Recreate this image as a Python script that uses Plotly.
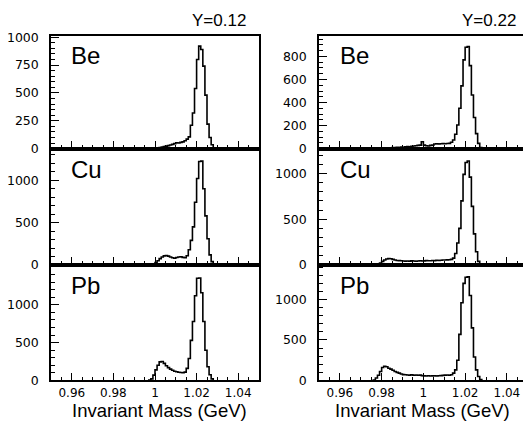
import plotly.graph_objects as go

# ---------------- data (1 MeV bins, counts per bin) ----------------
bin_width = 0.001

# Y = 0.12 column
be12_start = 1.000
be12_counts = [3, 6, 10, 14, 18, 22, 27, 32, 38, 45, 52, 50, 56, 60, 70, 85, 105,
               210, 320, 540, 800, 920, 890, 740, 480, 220, 100, 35, 8]
cu12_start = 0.998
cu12_counts = [5, 15, 30, 50, 75, 95, 108, 112, 105, 95, 85, 80, 88, 95, 98, 90, 85,
               110, 180, 290, 450, 740, 1020, 1220, 1225, 900, 580, 310, 120, 40, 10]
pb12_start = 0.997
pb12_counts = [5, 20, 70, 140, 200, 245, 250, 225, 195, 170, 150, 135, 122, 115, 108,
               104, 102, 110, 160, 290, 530, 780, 1120, 1350, 1355, 1160, 780, 400,
               180, 75, 20]

# Y = 0.22 column
be22_start = 0.984
be22_counts = [5, 8, 10, 12, 10, 14, 12, 15, 18, 16, 20, 22, 25, 28, 30, 60, 30, 25,
               22, 28, 30, 40, 42, 40, 42, 43, 42, 44, 45, 55, 75, 125, 205, 350, 545,
               770, 880, 885, 720, 465, 270, 130, 45, 10]
cu22_start = 0.978
cu22_counts = [5, 20, 40, 55, 65, 70, 68, 62, 55, 50, 48, 46, 44, 42, 44, 42, 45, 43,
               41, 44, 46, 44, 45, 48, 46, 47, 50, 48, 52, 50, 52, 55, 54, 56, 58, 62,
               75, 125, 240, 400, 700, 990, 1120, 1135, 960, 640, 340, 145, 40, 8]
pb22_start = 0.976
pb22_counts = [5, 30, 65, 110, 160, 175, 170, 150, 140, 125, 110, 100, 90, 80, 72, 70,
               68, 66, 70, 65, 68, 64, 66, 60, 56, 55, 58, 54, 56, 58, 55, 57, 60, 62,
               66, 68, 65, 70, 90, 130, 250, 570, 960, 1200, 1275, 1280, 1050, 650,
               290, 130, 48, 10]

nuclei = ["Be", "Cu", "Pb"]
rapidity_labels = ["Y=0.12", "Y=0.22"]
x_tickvals = [0.96, 0.98, 1.0, 1.02, 1.04]
x_ticktext = ["0.96", "0.98", "1", "1.02", "1.04"]
y_ticks_be12 = [0, 250, 500, 750, 1000]
y_ticks_be22 = [0, 200, 400, 600, 800]
y_ticks_heavy = [0, 500, 1000]

panels = [
    # (start, counts, y_max, y_tickvals, y_minor)
    [(be12_start, be12_counts, 1010, y_ticks_be12, 50),
     (cu12_start, cu12_counts, 1373, y_ticks_heavy, 100),
     (pb12_start, pb12_counts, 1526, y_ticks_heavy, 100)],
    [(be22_start, be22_counts, 977, y_ticks_be22, 50),
     (cu22_start, cu22_counts, 1271, y_ticks_heavy, 100),
     (pb22_start, pb22_counts, 1427, y_ticks_heavy, 100)],
]

# ---------------- layout geometry ----------------
W, H = 523, 434
col_dom = [(51 / W, 259 / W), (319 / W, 1.0)]
col_xrange = [(0.95, 1.05), (0.95, 0.95 + (W - 319) / 2087.5)]
row_pix = [(31, 147), (147, 267), (267, 386)]
row_dom = [(1 - b / H, 1 - t / H) for (t, b) in row_pix]

tick_font = dict(family="DejaVu Sans", size=12.5, color="black")
xtick_font = dict(family="DejaVu Sans", size=12, color="black")
text_font = "Liberation Sans, Arial, sans-serif"

fig = go.Figure()
layout = dict(
    width=W, height=H,
    margin=dict(l=0, r=0, t=0, b=0),
    paper_bgcolor="white", plot_bgcolor="white",
    showlegend=False,
)
annotations = []

idx = 0
for c in range(2):
    for r in range(3):
        idx += 1
        start, counts, ymax, yticks, ymin = panels[c][r]
        n = len(counts)
        xs = [start] + [start + i * bin_width for i in range(n)] + [start + n * bin_width]
        ys = [0] + list(counts) + [0]
        xa = "x" if idx == 1 else f"x{idx}"
        ya = "y" if idx == 1 else f"y{idx}"
        fig.add_trace(go.Scatter(
            x=xs, y=ys, mode="lines", line=dict(color="black", width=1.6, shape="hv"),
            xaxis=xa, yaxis=ya, hoverinfo="skip"))
        xkey = "xaxis" if idx == 1 else f"xaxis{idx}"
        ykey = "yaxis" if idx == 1 else f"yaxis{idx}"
        layout[xkey] = dict(
            domain=list(col_dom[c]), range=list(col_xrange[c]), anchor=ya,
            showgrid=False, zeroline=False,
            showline=True, linecolor="black", linewidth=1.5, mirror=True,
            ticks="inside", ticklen=8, tickwidth=1.3, tickcolor="black",
            tickvals=x_tickvals, ticktext=x_ticktext,
            showticklabels=(r == 2), tickfont=xtick_font,
            minor=dict(dtick=0.005, tick0=0.95, ticks="inside", ticklen=4,
                       tickwidth=1, tickcolor="black"),
        )
        layout[ykey] = dict(
            domain=list(row_dom[r]), range=[0, ymax], anchor=xa,
            showgrid=False, zeroline=False,
            showline=True, linecolor="black", linewidth=1.5,
            mirror=(c == 0),
            ticks="inside", ticklen=8, tickwidth=1.3, tickcolor="black",
            tickvals=yticks, tickfont=tick_font, ticklabelstandoff=8,
            minor=dict(dtick=ymin, tick0=0, ticks="inside", ticklen=4,
                       tickwidth=1, tickcolor="black"),
        )
        # nucleus label
        lab_x = [69, 338][c]
        lab_y = [51, 169, 288][r]
        annotations.append(dict(
            text=nuclei[r], xref="paper", yref="paper",
            x=lab_x / W, y=1 - lab_y / H, xanchor="left", yanchor="middle",
            showarrow=False, font=dict(family=text_font, size=24, color="black")))

# column titles
for c, (txt, xr) in enumerate(zip(rapidity_labels, [248, 518])):
    annotations.append(dict(
        text=txt, xref="paper", yref="paper", x=xr / W, y=1 - 14.5 / H,
        xanchor="right", yanchor="middle", showarrow=False,
        font=dict(family=text_font, size=17, color="black")))

# x-axis titles
for xc in [159, 422]:
    annotations.append(dict(
        text="Invariant Mass (GeV)", xref="paper", yref="paper",
        x=xc / W, y=1 - 417.5 / H, xanchor="center", yanchor="middle",
        showarrow=False, font=dict(family=text_font, size=18.5, color="black")))

layout["annotations"] = annotations
fig.update_layout(**layout)
fig.write_html("out.html")
